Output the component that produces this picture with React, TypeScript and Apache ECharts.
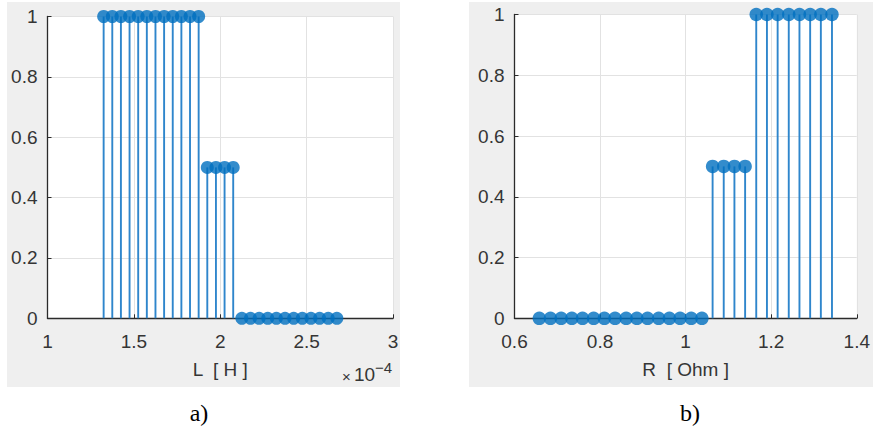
import React, { useEffect, useRef } from "react";
import * as echarts from "echarts";

// Inductance sweep, in units of 1e-4 H, and the response at each value
const lValuesE4 = [
  1.325, 1.375, 1.425, 1.475, 1.525, 1.575, 1.625, 1.675, 1.725, 1.775, 1.825, 1.875,
  1.925, 1.975, 2.025, 2.075,
  2.125, 2.175, 2.225, 2.275, 2.325, 2.375, 2.425, 2.475, 2.525, 2.575, 2.625, 2.675,
];
const lResponse = [
  1, 1, 1, 1, 1, 1, 1, 1, 1, 1, 1, 1,
  0.5, 0.5, 0.5, 0.5,
  0, 0, 0, 0, 0, 0, 0, 0, 0, 0, 0, 0,
];

// Resistance sweep in Ohm and the response at each value
const rValues = [
  0.658, 0.684, 0.709, 0.734, 0.759, 0.785, 0.81, 0.835, 0.861, 0.886, 0.911, 0.937,
  0.962, 0.987, 1.013, 1.038,
  1.063, 1.089, 1.114, 1.139,
  1.165, 1.19, 1.215, 1.241, 1.266, 1.291, 1.316, 1.342,
];
const rResponse = [
  0, 0, 0, 0, 0, 0, 0, 0, 0, 0, 0, 0, 0, 0, 0, 0,
  0.5, 0.5, 0.5, 0.5,
  1, 1, 1, 1, 1, 1, 1, 1,
];

const yTicks = [0, 0.2, 0.4, 0.6, 0.8, 1];

const BLUE = "#006fbf";
const STEM = "#2f86cc";
const AXIS = "#2b2b2b";
const GRID = "#e2e2e2";
const LABEL = "#353535";
const SANS = "'Liberation Sans', Arial, sans-serif";
const SERIF = "'Liberation Serif', 'Times New Roman', serif";

function stemSeries(idx: number, data: number[][]) {
  return {
    type: "custom",
    xAxisIndex: idx,
    yAxisIndex: idx,
    data,
    encode: { x: 0, y: 1 },
    z: 2,
    renderItem: (_p: any, api: any) => {
      const x = api.value(0);
      const y = api.value(1);
      const base = api.coord([x, 0]);
      const top = api.coord([x, y]);
      return {
        type: "line",
        shape: { x1: base[0], y1: base[1], x2: top[0], y2: top[1] },
        style: { stroke: STEM, lineWidth: 1.9 },
      };
    },
  };
}

function markerSeries(idx: number, data: number[][], size: number) {
  return {
    type: "scatter",
    xAxisIndex: idx,
    yAxisIndex: idx,
    data,
    symbol: "circle",
    symbolSize: size,
    clip: false,
    z: 3,
    itemStyle: { color: BLUE },
  };
}

function xAxis(idx: number, min: number, max: number, interval: number, name: string) {
  return {
    gridIndex: idx,
    type: "value",
    min,
    max,
    interval,
    axisLine: { show: true, onZero: false, lineStyle: { color: AXIS, width: 1.3 } },
    axisTick: { show: true, inside: true, length: 4, lineStyle: { color: AXIS } },
    axisLabel: { margin: 14, fontSize: 19, color: LABEL, fontFamily: SANS },
    splitLine: { show: true, lineStyle: { color: GRID, width: 1 } },
    name,
    nameLocation: "middle",
    nameGap: 42,
    nameTextStyle: { fontSize: 19, color: LABEL, fontFamily: SANS },
  };
}

function yAxis(idx: number) {
  return {
    gridIndex: idx,
    type: "value",
    min: yTicks[0],
    max: yTicks[yTicks.length - 1],
    interval: 0.2,
    axisLine: { show: true, onZero: false, lineStyle: { color: AXIS, width: 1.3 } },
    axisTick: { show: true, inside: true, length: 4, lineStyle: { color: AXIS } },
    axisLabel: { margin: 10, fontSize: 19, color: LABEL, fontFamily: SANS },
    splitLine: { show: true, lineStyle: { color: GRID, width: 1 } },
  };
}

export default function App() {
  const ref = useRef<HTMLDivElement>(null);

  useEffect(() => {
    if (!ref.current) return;
    const chart = echarts.init(ref.current, null, { renderer: "svg" });

    const lData = lValuesE4.map((v, i) => [v, lResponse[i]]);
    const rData = rValues.map((v, i) => [v, rResponse[i]]);

    chart.setOption({
      animation: false,
      backgroundColor: "#ffffff",
      grid: [
        { left: 47.5, top: 16.5, width: 345.5, height: 301.8, show: true, backgroundColor: "#ffffff", borderWidth: 0 },
        { left: 514.5, top: 14.5, width: 348.5, height: 303.8, show: true, backgroundColor: "#ffffff", borderWidth: 0 },
      ],
      xAxis: [xAxis(0, 1, 3, 0.5, "L  [ H ]"), xAxis(1, 0.6, 1.4, 0.2, "R  [ Ohm ]")],
      yAxis: [yAxis(0), yAxis(1)],
      series: [
        stemSeries(0, lData),
        markerSeries(0, lData, 13),
        stemSeries(1, rData),
        markerSeries(1, rData, 13.5),
      ],
      graphic: [
        { type: "rect", z: -10, shape: { x: 7, y: 2, width: 393, height: 385 }, style: { fill: "#efefef" } },
        { type: "rect", z: -10, shape: { x: 469, y: 2, width: 404, height: 385 }, style: { fill: "#efefef" } },
        // axis exponent: ×10^-4
        {
          type: "text",
          x: 342,
          y: 376,
          style: { text: "×", fontSize: 15, fill: LABEL, fontFamily: SANS, verticalAlign: "middle" },
        },
        {
          type: "text",
          x: 354,
          y: 374.5,
          style: { text: "10", fontSize: 19, fill: LABEL, fontFamily: SANS, verticalAlign: "middle" },
        },
        {
          type: "text",
          x: 375,
          y: 367.5,
          style: { text: "−4", fontSize: 15, fill: LABEL, fontFamily: SANS, verticalAlign: "middle" },
        },
        {
          type: "text",
          x: 199,
          y: 413,
          style: { text: "a)", fontSize: 24, fill: "#000", fontFamily: SERIF, align: "center", verticalAlign: "middle" },
        },
        {
          type: "text",
          x: 690,
          y: 413,
          style: { text: "b)", fontSize: 24, fill: "#000", fontFamily: SERIF, align: "center", verticalAlign: "middle" },
        },
      ],
    });

    return () => chart.dispose();
  }, []);

  return (
    <div
      ref={ref}
      style={{ position: "fixed", left: 0, top: 0, width: 873, height: 429 }}
    />
  );
}
